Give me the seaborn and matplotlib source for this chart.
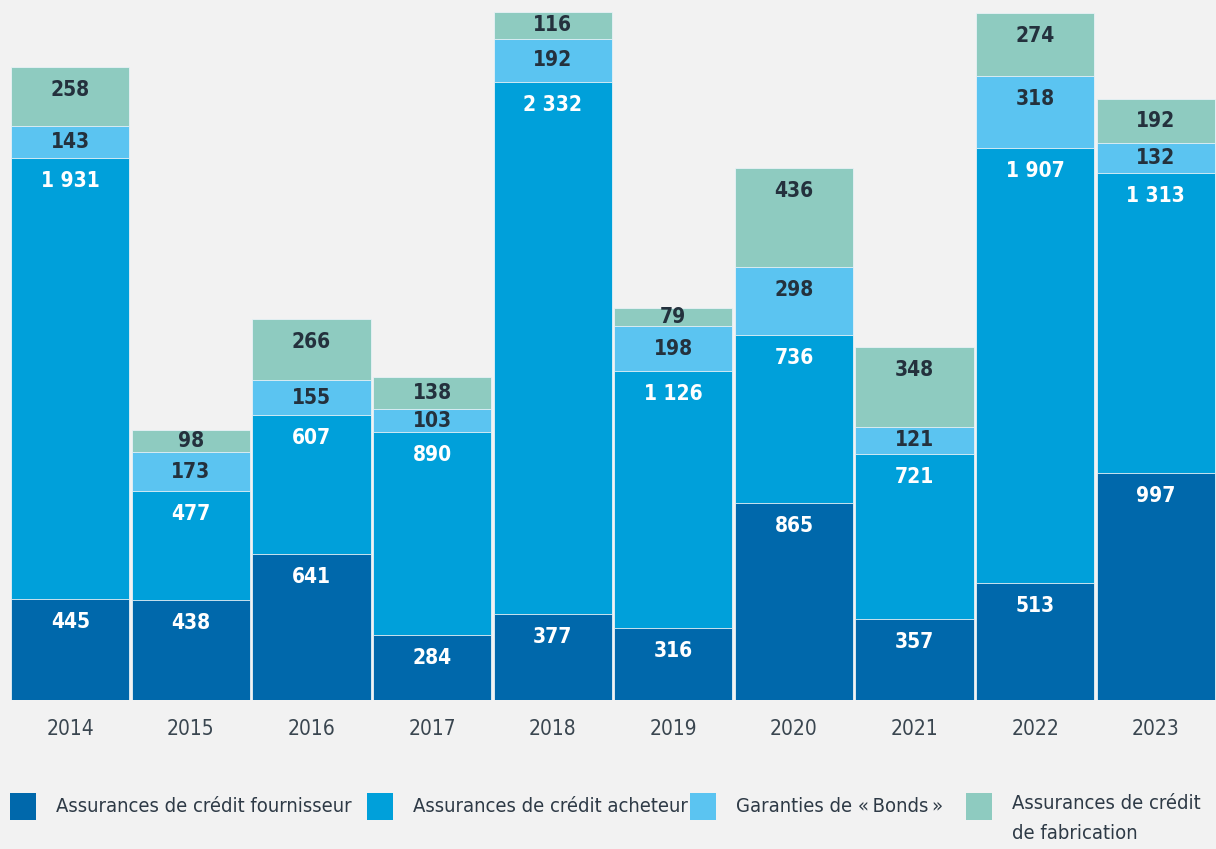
import numpy as np
import pandas as pd
import seaborn as sns
import matplotlib.pyplot as plt
from matplotlib.patches import Rectangle

# data
years = ['2014', '2015', '2016', '2017', '2018', '2019', '2020', '2021', '2022', '2023']
fournisseur = [445, 438, 641, 284, 377, 316, 865, 357, 513, 997]
acheteur = [1931, 477, 607, 890, 2332, 1126, 736, 721, 1907, 1313]
bonds = [143, 173, 155, 103, 192, 198, 298, 121, 318, 132]
fabrication = [258, 98, 266, 138, 116, 79, 436, 348, 274, 192]

series_names = ['Assurances de crédit fournisseur', 'Assurances de crédit acheteur',
                'Garanties de «\u2009Bonds\u2009»', 'Assurances de crédit\nde fabrication']
colors = ['#0068ab', '#00a0da', '#5bc4f1', '#8ecbc0']
label_colors = ['white', 'white', '#24313d', '#24313d']

sns.set_theme(style='white')
plt.rcParams['font.family'] = ['DejaVu Sans']
plt.rcParams['font.stretch'] = 'condensed'
bg = '#f2f2f2'

df = pd.DataFrame({'year': years, 's0': fournisseur, 's1': acheteur,
                   's2': bonds, 's3': fabrication})
layers = ['s0', 's1', 's2', 's3']
cum = df[layers].cumsum(axis=1)

fig = plt.figure(figsize=(12.16, 8.49), dpi=100, facecolor=bg)
ax = fig.add_axes([10 / 1216, 149 / 849, 1206 / 1216, 700 / 849])
ax.set_facecolor(bg)

# draw stacked bars from the top layer down
for i in range(3, -1, -1):
    sns.barplot(x=df['year'], y=cum[layers[i]], color=colors[i], width=0.98,
                edgecolor='#e8f2f6', linewidth=0.6, saturation=1, ax=ax)

ymax = 3070
ax.set_ylim(0, ymax)
ax.set_xlim(-0.5, len(years) - 0.5)

# value labels
off = 23 * ymax / 700
for j in range(len(years)):
    base = 0
    for i, col in enumerate(layers):
        h = df[col][j]
        top = base + h
        y = top - min(off, h / 2)
        txt = f'{h:,}'.replace(',', ' ')
        ax.text(j, y, txt, ha='center', va='center', fontsize=15, fontweight='bold',
                fontstretch='condensed', color=label_colors[i])
        base = top

ax.set_xlabel('')
ax.set_ylabel('')
ax.set_yticks([])
ax.tick_params(axis='x', length=0, pad=14, labelsize=15, labelcolor='#3a4650')
for t in ax.get_xticklabels():
    t.set_fontstretch('condensed')
sns.despine(ax=ax, left=True, bottom=True)

# legend
leg_x = [10, 367, 690, 966]
for i in range(4):
    fig.add_artist(Rectangle((leg_x[i] / 1216, 1 - 820 / 849), 26 / 1216, 27 / 849,
                             transform=fig.transFigure, facecolor=colors[i],
                             edgecolor='none'))
    if '\n' in series_names[i]:
        fig.text((leg_x[i] + 46) / 1216, 1 - 794 / 849, series_names[i], ha='left',
                 va='top', fontsize=14.5, color='#2e3a46', linespacing=1.75,
                 fontstretch='condensed')
    else:
        fig.text((leg_x[i] + 46) / 1216, 1 - 806 / 849, series_names[i], ha='left',
                 va='center', fontsize=14.5, color='#2e3a46', fontstretch='condensed')

fig.savefig('out.png', dpi=100, facecolor=bg)
